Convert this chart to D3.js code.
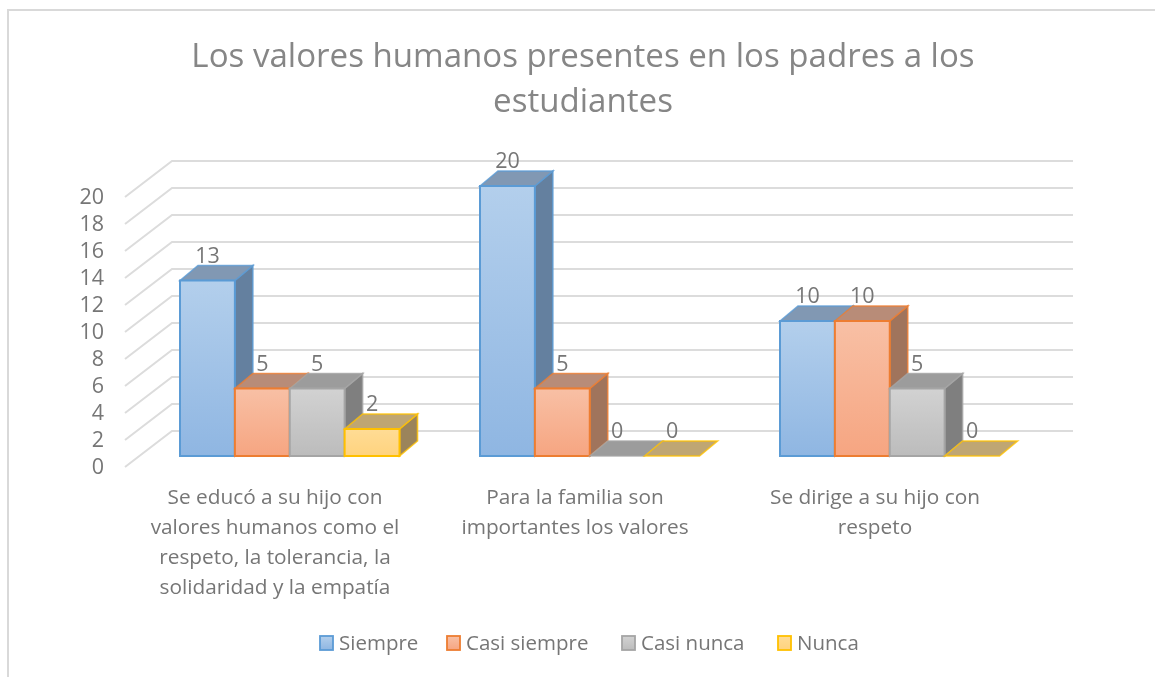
<!DOCTYPE html>
<html><head><meta charset="utf-8">
<script src="https://cdn.jsdelivr.net/npm/d3@7/dist/d3.min.js"></script>
<style>html,body{margin:0;padding:0;background:#fff;overflow:hidden}svg{display:block;filter:blur(0.65px)}text{font-family:"Open Sans","Noto Sans",sans-serif;fill:#767676}</style>
</head><body><div id="c"></div>
<script>
const categories=[["Se educó a su hijo con","valores humanos como el","respeto, la tolerancia, la","solidaridad y la empatía"],["Para la familia son","importantes los valores"],["Se dirige a su hijo con","respeto"]];
const seriesNames=["Siempre","Casi siempre","Casi nunca","Nunca"];
const siempre=[13,20,10];
const casiSiempre=[5,5,10];
const casiNunca=[5,0,5];
const nunca=[2,0,0];
const tickValues=[0,2,4,6,8,10,12,14,16,18,20];
const titleLines=["Los valores humanos presentes en los padres a los","estudiantes"];
const seriesValues=[siempre,casiSiempre,casiNunca,nunca];
const W=1155,H=677,dx=18,dy=-15;
const palette=[
 {top:"#b3cfec",bot:"#8fb6e2",stroke:"#5b9bd5",side:"#64809f",cap:"#8198b3"},
 {top:"#f8c0a5",bot:"#f6a581",stroke:"#ed7d31",side:"#a0745c",cap:"#b88c78"},
 {top:"#d2d2d2",bot:"#bcbcbc",stroke:"#a5a5a5",side:"#7f7f7f",cap:"#9c9c9c"},
 {top:"#ffdc95",bot:"#ffd37e",stroke:"#ffc000",side:"#9b845b",cap:"#bfa673"}];
const svg=d3.select("#c").append("svg").attr("width",W).attr("height",H);
const defs=svg.append("defs");
palette.forEach((p,i)=>{const g=defs.append("linearGradient").attr("id","g"+i).attr("x1",0).attr("x2",0).attr("y1",0).attr("y2",1);
 g.append("stop").attr("offset",0).attr("stop-color",p.top);g.append("stop").attr("offset",1).attr("stop-color",p.bot);});
// frame: left and top edges only, as in the crop of the reference
svg.append("path").attr("d","M8,677V10H1155").attr("fill","none").attr("stroke","#d9d9d9").attr("stroke-width",2);
// title
svg.append("g").selectAll("text").data(titleLines).join("text").attr("x",583).attr("y",(d,i)=>67+i*45)
 .attr("text-anchor","middle").attr("font-size",33.1).style("fill","#868686").text(d=>d);
const y=d3.scaleLinear().domain([0,20]).range([456,186]);
const x0=d3.scaleBand().domain(d3.range(categories.length)).range([130,1030]);
const x1=d3.scaleBand().domain(d3.range(seriesNames.length)).range([50,269.5]);
// gridlines
const gx0=125,gx1=172,gxEnd=1073,gOff=11,gBack=-25;
svg.append("g").selectAll("path").data(tickValues).join("path")
 .attr("d",v=>`M${gx0},${y(v)+gOff}L${gx1},${y(v)+gBack}H${gxEnd}`)
 .attr("fill","none").attr("stroke","#dcdcdc").attr("stroke-width",2);
// axis labels
const axis=d3.axisLeft(d3.scaleLinear().domain([0,20]).range([467,197])).tickValues(tickValues).tickSize(0).tickPadding(0);
const ga=svg.append("g").attr("transform","translate(104,0)").call(axis);
ga.select(".domain").remove();
ga.selectAll("text").attr("font-size",21.5).style("font-family",'"Open Sans","Noto Sans",sans-serif').style("fill","#767676");
// bars
const marks=svg.append("g");
categories.forEach((c,ci)=>{
 seriesValues.forEach((vals,si)=>{
  const v=vals[ci],p=palette[si],bx=x0(ci)+x1(si),bw=x1.bandwidth(),ty=y(v),by=y(0);
  const g=marks.append("g");
  const st=p.stroke;
  if(v>0){
   g.append("path").attr("d",`M${bx+bw},${ty}l${dx},${dy}V${by+dy}l${-dx},${-dy}Z`).attr("fill",p.side).attr("stroke",st).attr("stroke-width",1.6).attr("stroke-opacity",.8);
  }
  g.append("path").attr("d",`M${bx},${ty}l${dx},${dy}h${bw}l${-dx},${-dy}Z`).attr("fill",p.cap).attr("stroke",st).attr("stroke-width",1.6).attr("stroke-opacity",.8);
  if(v>0){
   g.append("rect").attr("x",bx).attr("y",ty).attr("width",bw).attr("height",by-ty).attr("fill",`url(#g${si})`).attr("stroke",st).attr("stroke-width",2);
  }
 });
});
// data labels
const labels=svg.append("g");
categories.forEach((c,ci)=>{
 seriesValues.forEach((vals,si)=>{
  const v=vals[ci];
  labels.append("text").attr("x",x0(ci)+x1(si)+x1.bandwidth()/2).attr("y",y(v)+dy-3)
   .attr("text-anchor","middle").attr("font-size",21.5).text(v);
 });
});
// category labels
const cg=svg.append("g");
categories.forEach((lines,ci)=>{
 cg.selectAll(null).data(lines).join("text").attr("x",x0(ci)+x0.bandwidth()/2-5)
  .attr("y",(d,i)=>504+i*30).attr("text-anchor","middle").attr("font-size",20.8).text(d=>d);
});
// legend
const legendX=[320,447,622,778];
const lg=svg.append("g");
seriesNames.forEach((n,i)=>{
 const p=palette[i];
 lg.append("rect").attr("x",legendX[i]).attr("y",636).attr("width",13).attr("height",14).attr("fill",`url(#g${i})`).attr("stroke",p.stroke).attr("stroke-width",1.8);
 lg.append("text").attr("x",legendX[i]+19).attr("y",649.5).attr("font-size",20.5).text(n);
});
</script></body></html>
